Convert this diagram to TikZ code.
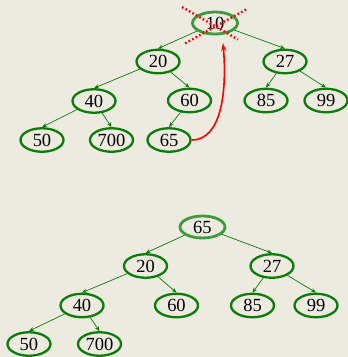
\documentclass[tikz,border=0pt]{standalone}
\usepackage{fontspec}
\setmainfont{Liberation Serif}
\usetikzlibrary{shapes.geometric,arrows.meta}
\definecolor{bgc}{RGB}{237,234,224}
\definecolor{nodegreen}{RGB}{10,125,10}
\definecolor{rootgreen}{RGB}{60,155,60}
\tikzset{
  heapnode/.style={ellipse,draw=nodegreen,line width=2.3pt,minimum width=43pt,minimum height=23.5pt,inner sep=0pt,font=\fontsize{18.5}{18.5}\selectfont},
  rootnode/.style={heapnode,draw=rootgreen,line width=2.8pt,minimum width=45pt,minimum height=22pt},
  edge/.style={draw=nodegreen,line width=0.7pt,-{Stealth[length=5pt,width=4pt]}},
  crossline/.style={draw=red,line width=2.4pt,dash pattern=on 1.6pt off 2.4pt},
  moveline/.style={draw=red,line width=1.6pt,-{Stealth[length=8pt,width=5pt]}}
}
\begin{document}
\begin{tikzpicture}[x=1pt,y=-1pt]
  \fill[bgc] (0,0) rectangle (348,357);
  \useasboundingbox (0,0) rectangle (348,357);

  % heap before the root is removed
  \node[rootnode] (a10) at (215,23) {10};
  \node[heapnode] (a20) at (158,61.5) {20};
  \node[heapnode] (a27) at (285,61.5) {27};
  \node[heapnode] (a40) at (94,101) {40};
  \node[heapnode] (a60) at (189.5,100.5) {60};
  \node[heapnode] (a85) at (266,100.5) {85};
  \node[heapnode] (a99) at (326,100.5) {99};
  \node[heapnode] (a50) at (42,140) {50};
  \node[heapnode] (a700) at (111.5,140) {700};
  \node[heapnode] (a65) at (169,140) {65};

  \draw[edge] (a10) -- (a20.north);
  \draw[edge] (a10) -- (a27.north);
  \draw[edge] (a20) -- (a40.north);
  \draw[edge] (a20) -- (a60.north);
  \draw[edge] (a27) -- (a85.north);
  \draw[edge] (a27) -- (a99.north);
  \draw[edge] (a40) -- (a50.north);
  \draw[edge] (a40) -- (a700.north);
  \draw[edge] (a60) -- (a65.north);

  % root crossed out, last leaf moved up
  \coordinate (c1) at (182,7);
  \coordinate (c2) at (238,39.5);
  \coordinate (c3) at (246,9.5);
  \coordinate (c4) at (184,44);
  \draw[crossline] (c1) -- (c2);
  \draw[crossline] (c3) -- (c4);
  \coordinate (tipend) at (223,43);
  \draw[moveline] (a65.east) .. controls (222,140) and (227,90) .. (tipend);

  % heap after the move
  \node[rootnode] (b65) at (202.5,227) {65};
  \node[heapnode] (b20) at (145.5,266) {20};
  \node[heapnode] (b27) at (272,266) {27};
  \node[heapnode] (b40) at (82,305.5) {40};
  \node[heapnode] (b60) at (176.5,305.5) {60};
  \node[heapnode] (b85) at (252.5,305.5) {85};
  \node[heapnode] (b99) at (316,305.5) {99};
  \node[heapnode] (b50) at (29,344) {50};
  \node[heapnode] (b700) at (99.5,344) {700};

  \draw[edge] (b65) -- (b20.north);
  \draw[edge] (b65) -- (b27.north);
  \draw[edge] (b20) -- (b40.north);
  \draw[edge] (b20) -- (b60.north);
  \draw[edge] (b27) -- (b85.north);
  \draw[edge] (b27) -- (b99.north);
  \draw[edge] (b40) -- (b50.north);
  \draw[edge] (b40) -- (b700.north);
\end{tikzpicture}
\end{document}
